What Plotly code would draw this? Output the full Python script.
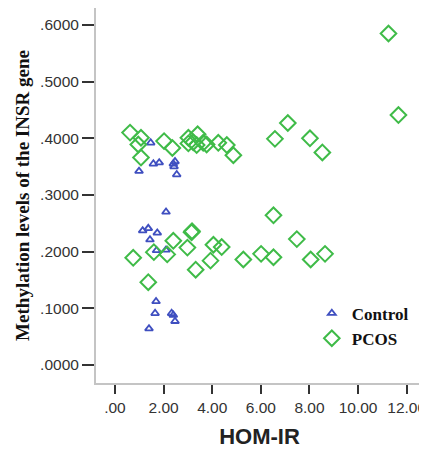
import plotly.graph_objects as go

control_x = [1.47, 0.99, 1.58, 1.82, 2.40, 2.47, 2.54, 2.43, 2.10, 1.14, 1.37, 1.74, 1.44,
             1.71, 2.10, 1.69, 1.65, 1.40, 2.33, 2.40, 2.47]
control_y = [0.392, 0.342, 0.355, 0.357, 0.355, 0.359, 0.336, 0.350, 0.270, 0.237, 0.241, 0.233, 0.221,
             0.202, 0.203, 0.112, 0.091, 0.064, 0.091, 0.088, 0.077]

pcos_x = [11.25, 11.66, 7.11, 6.58, 8.02, 8.53, 0.62, 1.07, 0.96, 1.07, 2.02, 2.36, 3.02, 3.02,
          3.40, 3.22, 3.36, 3.63, 3.77, 4.25, 4.60, 4.87, 6.52, 3.15, 3.17, 2.40, 2.98, 1.60,
          2.15, 0.75, 4.05, 4.39, 3.93, 3.32, 5.28, 6.01, 6.52, 7.48, 8.05, 8.64, 1.37]
pcos_y = [0.585, 0.441, 0.427, 0.399, 0.400, 0.375, 0.410, 0.401, 0.389, 0.366, 0.395, 0.383, 0.401, 0.391,
          0.407, 0.393, 0.388, 0.392, 0.389, 0.392, 0.388, 0.370, 0.264, 0.234, 0.236, 0.219, 0.207, 0.199,
          0.195, 0.189, 0.212, 0.208, 0.184, 0.168, 0.186, 0.196, 0.190, 0.222, 0.186, 0.196, 0.146]

x_tickvals = [0, 2, 4, 6, 8, 10, 12]
x_ticktext = [".00", "2.00", "4.00", "6.00", "8.00", "10.00", "12.00"]
y_tickvals = [0.0, 0.1, 0.2, 0.3, 0.4, 0.5, 0.6]
y_ticktext = [".0000", ".1000", ".2000", ".3000", ".4000", ".5000", ".6000"]

fig = go.Figure()
fig.add_trace(go.Scatter(
    x=control_x, y=control_y, mode="markers", name="<b>Control</b>",
    marker=dict(symbol="triangle-up-open", size=7, color="#3f4fc0", line=dict(width=1.8, color="#3f4fc0")),
))
fig.add_trace(go.Scatter(
    x=pcos_x, y=pcos_y, mode="markers", name="<b>PCOS</b>",
    marker=dict(symbol="diamond-open", size=12, color="#3fbb48", line=dict(width=2, color="#3fbb48")),
))

# page body adds an 8px margin, so the figure is sized to fit the 427x454 window
fig.update_layout(
    width=419, height=446,
    margin=dict(l=88, r=4, t=0, b=71),
    paper_bgcolor="white", plot_bgcolor="white",
    showlegend=True,
    legend=dict(x=0.66, y=0.233, xanchor="left", yanchor="top",
                font=dict(family="Liberation Serif", size=17, color="#111"),
                bgcolor="rgba(0,0,0,0)", tracegroupgap=0, itemwidth=30),
    xaxis=dict(
        range=[-0.78, 12.67], tickvals=x_tickvals, ticktext=x_ticktext, automargin=False,
        showgrid=False, zeroline=False, showline=True, linecolor="#c4c4c4", linewidth=2,
        ticks="outside", ticklen=9, tickwidth=2, tickcolor="#333",
        tickfont=dict(family="Liberation Sans", size=15.5, color="#333"),
        title=dict(text="<b>HOM-IR</b>", font=dict(family="Liberation Sans", size=22, color="#222"), standoff=14),
    ),
    yaxis=dict(
        range=[-0.032, 0.630], tickvals=y_tickvals, ticktext=y_ticktext, automargin=False,
        showgrid=False, zeroline=False, showline=True, linecolor="#c4c4c4", linewidth=2,
        ticks="outside", ticklen=12, tickwidth=2, tickcolor="#333",
        tickfont=dict(family="Liberation Sans", size=15.5, color="#333"),
        title=dict(text="<b>Methylation levels of the INSR gene</b>",
                   font=dict(family="Liberation Serif", size=19, color="#111"), standoff=5),
    ),
)

fig.write_html("out.html")
